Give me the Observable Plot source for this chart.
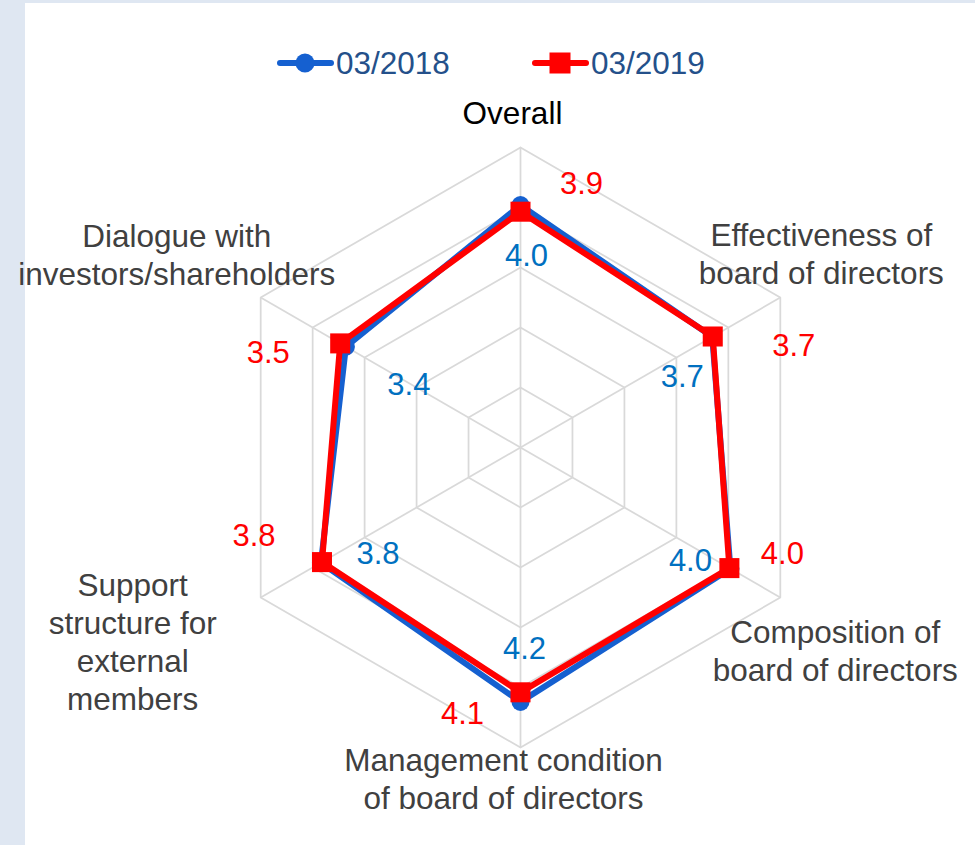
<!DOCTYPE html>
<html>
<head>
<meta charset="utf-8">
<script src="https://cdn.jsdelivr.net/npm/d3@7"></script>
<script src="https://cdn.jsdelivr.net/npm/@observablehq/plot@0.6"></script>
<style>
  body { margin: 0; background: #dfe7f2; font-family: "Liberation Sans", Arial, sans-serif; }
  #page { position: relative; width: 975px; height: 845px; overflow: hidden; }
  #panel { position: absolute; left: 25px; top: 3px; right: 0; bottom: 0; background: #fff; }
  #legend { position: relative; height: 90px; }
  .item { position: absolute; top: 46px; display: flex; align-items: center; height: 34px; }
  .item span { font-size: 31.5px; color: #24508a; margin-left: 2px; line-height: 34px; }
  #chart { position: relative; }
</style>
</head>
<body>
<div id="page">
  <div id="panel"></div>
  <div id="legend"></div>
  <div id="chart"></div>
</div>
<script>
// ---- data ----
const categories = [
  "Overall",
  "Effectiveness of\nboard of directors",
  "Composition of\nboard of directors",
  "Management condition\nof board of directors",
  "Support\nstructure for\nexternal\nmembers",
  "Dialogue with\ninvestors/shareholders"
];
const seriesNames = ["03/2018", "03/2019"];
const values2018 = [4.04, 3.69, 4.04, 4.24, 3.84, 3.36];
const values2019 = [3.93, 3.70, 4.02, 4.08, 3.82, 3.47];
const ringLevels = [1, 2, 3, 4, 5];
const maxValue = 5;

// ---- layout / style config ----
const W = 975, H = 755, cx = 520, cy = 357, R = 300;
const k = R / maxValue;
const blue = "#1560d0", red = "#ff0000", blueLabel = "#0070c0", gridColor = "#d9d9d9";
const catOffsets = [[-8, -36], [41, -45], [55, 52], [-17, 30], [-128, 43.5], [-84, -44]];
const off2018 = [[6, 51], [-30, 40], [-40, -8], [4, -53], [57, -9], [63, 38]];
const off2019 = [[61, -28], [81, 10], [53, -14], [-58, 22], [-68, -26], [-72, 10]];

const n = categories.length;
const angle = i => (i * 2 * Math.PI) / n;
const px = (v, i) => v * Math.sin(angle(i));
const py = (v, i) => v * Math.cos(angle(i));

const rings = ringLevels.flatMap(l =>
  d3.range(n + 1).map(j => ({level: l, x: px(l, j % n), y: py(l, j % n)})));
const spokes = categories.map((c, i) => ({x: px(maxValue, i), y: py(maxValue, i)}));
const pts = vals => vals.map((v, i) => ({v, i, x: px(v, i), y: py(v, i)}));
const p18 = pts(values2018), p19 = pts(values2019);
const closed = p => [...p, p[0]];
const fmt = d3.format(".1f");

const marks = [
  Plot.line(rings, {x: "x", y: "y", z: "level", stroke: gridColor, strokeWidth: 1.75}),
  Plot.link(spokes, {x1: 0, y1: 0, x2: "x", y2: "y", stroke: gridColor, strokeWidth: 1.75}),
  Plot.line(closed(p18), {x: "x", y: "y", stroke: blue, strokeWidth: 6, strokeLinejoin: "round"}),
  Plot.dot(p18, {x: "x", y: "y", r: 9, fill: blue}),
  Plot.line(closed(p19), {x: "x", y: "y", stroke: red, strokeWidth: 6, strokeLinejoin: "round"}),
  Plot.dot(p19, {x: "x", y: "y", r: 11.3, symbol: "square", fill: red}),
  ...p18.map((d, i) => Plot.text([d], {x: "x", y: "y", text: d => fmt(d.v), dx: off2018[i][0], dy: off2018[i][1], fill: blueLabel, fontSize: 31})),
  ...p19.map((d, i) => Plot.text([d], {x: "x", y: "y", text: d => fmt(d.v), dx: off2019[i][0], dy: off2019[i][1], fill: red, fontSize: 31})),
  ...spokes.map((d, i) => Plot.text([d], {x: "x", y: "y", text: () => categories[i], dx: catOffsets[i][0], dy: catOffsets[i][1],
    fill: i === 0 ? "#000" : "#404040", fontSize: 31.5, lineHeight: 1.21, textAnchor: "middle"}))
];

const chart = Plot.plot({
  width: W, height: H,
  margin: 0,
  x: {domain: [-cx / k, (W - cx) / k], range: [0, W], axis: null},
  y: {domain: [-(H - cy) / k, cy / k], range: [H, 0], axis: null},
  style: {background: "transparent", overflow: "visible", fontFamily: "'Liberation Sans', Arial, sans-serif"},
  marks
});
document.getElementById("chart").appendChild(chart);

// ---- legend ----
const legend = document.getElementById("legend");
const legendLeft = [277, 532];
seriesNames.forEach((name, i) => {
  const item = document.createElement("div");
  item.className = "item";
  item.style.left = legendLeft[i] + "px";
  const color = i === 0 ? blue : red;
  const marker = i === 0
    ? `<circle cx="28" cy="17" r="9.5" fill="${color}"/>`
    : `<rect x="17.5" y="6.5" width="21" height="21" fill="${color}"/>`;
  item.innerHTML = `<svg width="57" height="34"><line x1="3" x2="54" y1="17" y2="17" stroke="${color}" stroke-width="6" stroke-linecap="round"/>${marker}</svg><span>${name}</span>`;
  legend.appendChild(item);
});
</script>
</body>
</html>
